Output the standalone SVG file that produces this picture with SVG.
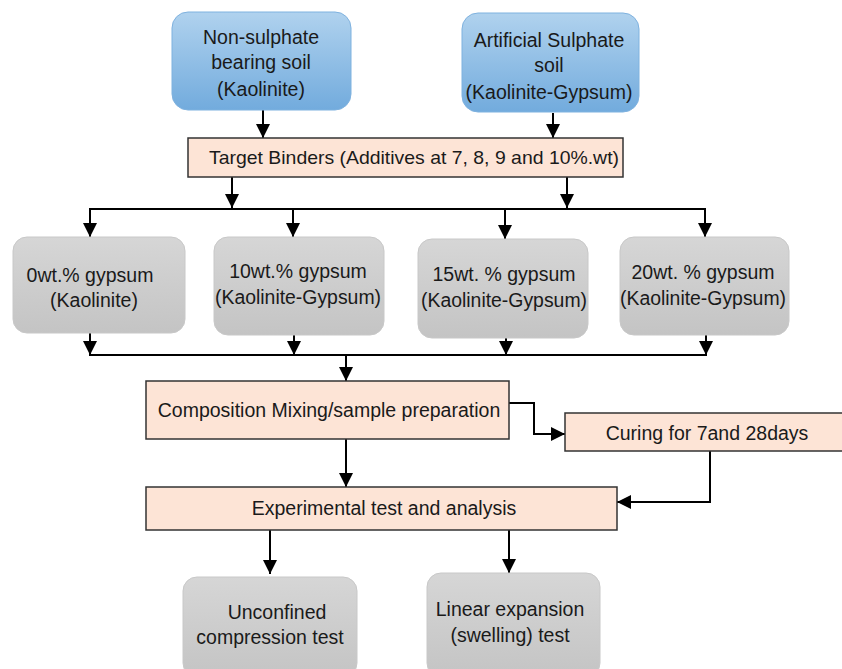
<svg xmlns="http://www.w3.org/2000/svg" width="842" height="669" viewBox="0 0 842 669">
<style>
text{font-family:"Liberation Sans",Arial,sans-serif;font-size:19.5px;fill:#1a1a1a;text-anchor:middle}
.blue{fill:url(#gb);stroke:#7fb2df;stroke-width:1}
.gray{fill:url(#gg);stroke:#c8c8c8;stroke-width:1}
.peach{fill:#fde4d6;stroke:#333;stroke-width:1.5}
.c{fill:none;stroke:#000;stroke-width:2}
.a{marker-end:url(#ah)}
</style>
<defs>
<linearGradient id="gb" x1="0" y1="0" x2="0" y2="1"><stop offset="0" stop-color="#b0d2ee"/><stop offset="1" stop-color="#72abdd"/></linearGradient>
<linearGradient id="gg" x1="0" y1="0" x2="0" y2="1"><stop offset="0" stop-color="#d6d6d6"/><stop offset="1" stop-color="#c4c4c4"/></linearGradient>
<marker id="ah" markerUnits="userSpaceOnUse" markerWidth="16" markerHeight="16" viewBox="0 0 16 16" refX="14" refY="8" orient="auto"><path d="M0,1 L14,8 L0,15 Z" fill="#000"/></marker>
</defs>
<g id="connectors">
<path class="c a" d="M263,110 V138"/>
<path class="c a" d="M553,113 V138"/>
<path class="c a" d="M232,177 V208"/>
<path class="c a" d="M567,177 V208"/>
<path class="c" d="M89,209 H706"/>
<path class="c a" d="M90,209 V237"/>
<path class="c a" d="M293,209 V237"/>
<path class="c a" d="M505,209 V239"/>
<path class="c a" d="M705,209 V237"/>
<path class="c a" d="M90,333 V355"/>
<path class="c a" d="M294,335 V355"/>
<path class="c a" d="M506,338 V355"/>
<path class="c a" d="M706,335 V355"/>
<path class="c" d="M89,355 H707"/>
<path class="c a" d="M346,355 V381"/>
<path class="c a" d="M509,403 H534 V434 H565"/>
<path class="c a" d="M346,439 V487"/>
<path class="c a" d="M710,451 V502 H617"/>
<path class="c a" d="M270,530 V574"/>
<path class="c a" d="M509,530 V573"/>
</g>
<g id="n1"><rect class="blue" x="172" y="12" width="179" height="98" rx="16"/><text x="261" y="44">Non-sulphate</text><text x="261" y="69">bearing soil</text><text x="261" y="96">(Kaolinite)</text></g>
<g id="n2"><rect class="blue" x="462" y="13" width="177" height="99" rx="16"/><text x="549" y="47">Artificial Sulphate</text><text x="549" y="72">soil</text><text x="549" y="99">(Kaolinite-Gypsum)</text></g>
<g id="n3"><rect class="peach" x="188" y="138" width="435" height="39"/><text x="414" y="164" style="font-size:18.5px" textLength="410" lengthAdjust="spacingAndGlyphs">Target Binders (Additives at 7, 8, 9 and 10%.wt)</text></g>
<g id="n4"><rect class="gray" x="13" y="237" width="172" height="96" rx="14"/><text x="90" y="282">0wt.% gypsum</text><text x="94" y="307">(Kaolinite)</text></g>
<g id="n5"><rect class="gray" x="214" y="237" width="170" height="98" rx="14"/><text x="298" y="278">10wt.% gypsum</text><text x="298" y="304" textLength="166" lengthAdjust="spacingAndGlyphs">(Kaolinite-Gypsum)</text></g>
<g id="n6"><rect class="gray" x="418" y="239" width="170" height="99" rx="14"/><text x="504" y="281">15wt. % gypsum</text><text x="504" y="307" textLength="166" lengthAdjust="spacingAndGlyphs">(Kaolinite-Gypsum)</text></g>
<g id="n7"><rect class="gray" x="620" y="237" width="169" height="98" rx="14"/><text x="703" y="279">20wt. % gypsum</text><text x="703" y="305" textLength="166" lengthAdjust="spacingAndGlyphs">(Kaolinite-Gypsum)</text></g>
<g id="n8"><rect class="peach" x="146" y="381" width="363" height="58"/><text x="329" y="417">Composition Mixing/sample preparation</text></g>
<g id="n9"><rect class="peach" x="565" y="413" width="290" height="38"/><text x="707" y="440">Curing for 7and 28days</text></g>
<g id="n10"><rect class="peach" x="146" y="487" width="471" height="43"/><text x="384" y="515">Experimental test and analysis</text></g>
<g id="n11"><rect class="gray" x="183" y="577" width="174" height="100" rx="14"/><text x="277" y="619">Unconfined</text><text x="270" y="644">compression test</text></g>
<g id="n12"><rect class="gray" x="427" y="573" width="173" height="104" rx="14"/><text x="510" y="616">Linear expansion</text><text x="510" y="642">(swelling) test</text></g>
</svg>
